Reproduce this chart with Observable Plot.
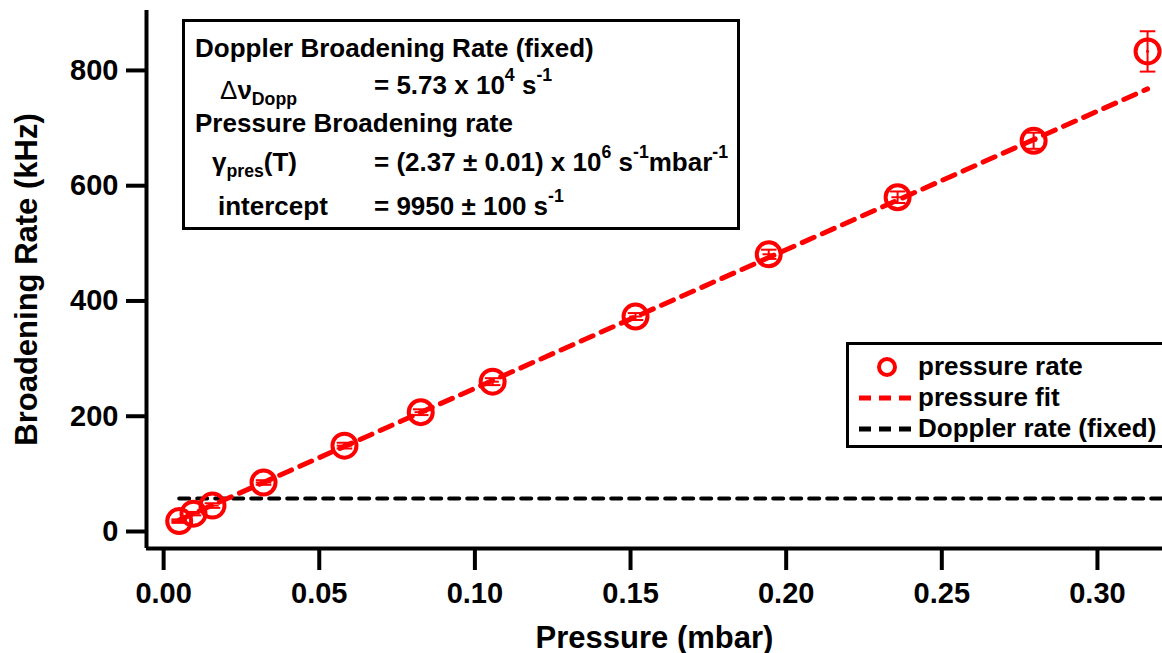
<!DOCTYPE html>
<html>
<head>
<meta charset="utf-8">
<script src="https://cdn.jsdelivr.net/npm/d3@7"></script>
<script src="https://cdn.jsdelivr.net/npm/@observablehq/plot@0.6"></script>
<style>
  html, body { margin: 0; padding: 0; background: #fff; }
  #wrap { position: relative; width: 1162px; height: 653px; overflow: hidden; font-family: "Liberation Sans", Arial, sans-serif; font-weight: bold; }
  #wrap svg text { font-weight: bold; }
  .box { position: absolute; border: 3px solid #000; background: #fff; box-sizing: border-box; color: #000; }
  .row { position: absolute; white-space: nowrap; line-height: 1; }
  sup, sub { font-size: 0.68em; line-height: 0; }
  sup { vertical-align: 0.75em; }
  sub { vertical-align: -0.35em; }
</style>
</head>
<body>
<div id="wrap"></div>
<script>
// ---- data ----
const pressure = [0.005, 0.0096, 0.0157, 0.0321, 0.0581, 0.0826, 0.1057, 0.1516, 0.1944, 0.2358, 0.2795, 0.3161]; // mbar
const rate     = [18, 31, 45, 85, 149, 207, 260, 373, 481, 580, 678, 833];  // kHz
const rateErr  = [3, 3, 4, 4, 5, 5, 6, 6, 8, 10, 14, 35];                    // kHz
const pressErr = [0.0025, 0.002, 0.002, 0.0025, 0.0025, 0.002, 0.002, 0.002, 0.002, 0.002, 0.001, 0.0005];
const fitX = [0.005, 0.3161];
const fitY = [20, 768];
const dopplerX = [0.005, 0.3209];
const dopplerY = [57.3, 57.3];
const xTicks = [0, 0.05, 0.10, 0.15, 0.20, 0.25, 0.30];
const yTicks = [0, 200, 400, 600, 800];
const xDomain = [-0.0055, 0.3209];
const yDomain = [-29.5, 904];

const pts = pressure.map((p, i) => ({p, r: rate[i], er: rateErr[i], ep: pressErr[i]}));
const fit = fitX.map((x, i) => ({x, y: fitY[i]}));
const dop = dopplerX.map((x, i) => ({x, y: dopplerY[i]}));
const red = "#ff0000";

const chart = Plot.plot({
  width: 1162, height: 653,
  marginLeft: 146, marginRight: 0, marginTop: 10, marginBottom: 105,
  style: {fontFamily: "'Liberation Sans', Arial, sans-serif", fontWeight: "bold", background: "#fff", color: "#000"},
  x: {domain: xDomain},
  y: {domain: yDomain},
  marks: [
    Plot.axisX({ticks: xTicks, tickFormat: d3.format(".2f"), tickSize: 22, tickPadding: 12, fontSize: 29, strokeWidth: 4,
                label: null}),
    Plot.axisY({ticks: yTicks, tickFormat: d3.format("d"), tickSize: 20, tickPadding: 8, fontSize: 29, strokeWidth: 4,
                label: null}),
    Plot.axisX({ticks: [], tickSize: 0, fontSize: 31, label: "Pressure (mbar)", labelAnchor: "center", labelArrow: "none", labelOffset: 99}),
    Plot.axisY({ticks: [], tickSize: 0, fontSize: 31, label: "Broadening Rate (kHz)", labelAnchor: "center", labelArrow: "none", labelOffset: 132}),
    Plot.ruleX([xDomain[0]], {strokeWidth: 4, stroke: "#000"}),
    Plot.ruleY([yDomain[0]], {strokeWidth: 4, stroke: "#000"}),
    Plot.line(dop, {x: "x", y: "y", stroke: "#000", strokeWidth: 4, strokeDasharray: "10,8"}),
    Plot.line(fit, {x: "x", y: "y", stroke: red, strokeWidth: 5, strokeDasharray: "13,9"}),
    // y error bars
    Plot.link(pts, {x1: "p", x2: "p", y1: d => d.r - d.er, y2: d => d.r + d.er, stroke: red, strokeWidth: 2}),
    Plot.link(pts, {x1: d => d.p - 0.0025, x2: d => d.p + 0.0025, y1: d => d.r - d.er, y2: d => d.r - d.er, stroke: red, strokeWidth: 2}),
    Plot.link(pts, {x1: d => d.p - 0.0025, x2: d => d.p + 0.0025, y1: d => d.r + d.er, y2: d => d.r + d.er, stroke: red, strokeWidth: 2}),
    // x error bars
    Plot.link(pts, {x1: d => d.p - d.ep, x2: d => d.p + d.ep, y1: "r", y2: "r", stroke: red, strokeWidth: 2}),
    Plot.dot(pts, {x: "p", y: "r", r: 12, stroke: red, strokeWidth: 4, fill: "none"})
  ]
});
const wrap = document.getElementById("wrap");
wrap.appendChild(chart);

// ---- annotation box ----
const box = document.createElement("div");
box.className = "box";
Object.assign(box.style, {left: "182px", top: "19px", width: "558px", height: "211px", fontSize: "26px"});
box.innerHTML = `
  <div class="row" style="left:10px; top:13px;">Doppler Broadening Rate (fixed)</div>
  <div class="row" style="left:35px; top:55px;"><span style="font-weight:normal">&Delta;</span>&nu;<sub>Dopp</sub></div>
  <div class="row" style="left:189px; top:50px;">= 5.73 x 10<sup>4</sup> s<sup>-1</sup></div>
  <div class="row" style="left:10px; top:88px;">Pressure Broadening rate</div>
  <div class="row" style="left:27px; top:127px;">&gamma;<sub>pres</sub>(T)</div>
  <div class="row" style="left:189px; top:127px;">= (2.37 &plusmn; 0.01) x 10<sup>6</sup> s<sup>-1</sup>mbar<sup>-1</sup></div>
  <div class="row" style="left:33px; top:171px;">intercept</div>
  <div class="row" style="left:189px; top:171px;">= 9950 &plusmn; 100 s<sup>-1</sup></div>
`;
wrap.appendChild(box);

// ---- legend ----
const legend = document.createElement("div");
legend.className = "box";
Object.assign(legend.style, {left: "846px", top: "342px", width: "330px", height: "106px", fontSize: "26px"});
const items = [
  {label: "pressure rate", kind: "dot"},
  {label: "pressure fit", kind: "red"},
  {label: "Doppler rate (fixed)", kind: "black"}
];
items.forEach((it, i) => {
  const cy = 22 + i * 31;
  let sym = "";
  if (it.kind === "dot") {
    sym = `<svg width="60" height="24" style="position:absolute;left:8px;top:${cy-12}px"><circle cx="30" cy="12" r="8" fill="none" stroke="${red}" stroke-width="4"/></svg>`;
  } else {
    const c = it.kind === "red" ? red : "#000";
    sym = `<svg width="60" height="24" style="position:absolute;left:8px;top:${cy-12}px"><line x1="2" y1="12" x2="54" y2="12" stroke="${c}" stroke-width="5" stroke-dasharray="12,8"/></svg>`;
  }
  legend.insertAdjacentHTML("beforeend", sym + `<div class="row" style="left:69px; top:${cy-14}px;">${it.label}</div>`);
});
wrap.appendChild(legend);
</script>
</body>
</html>
